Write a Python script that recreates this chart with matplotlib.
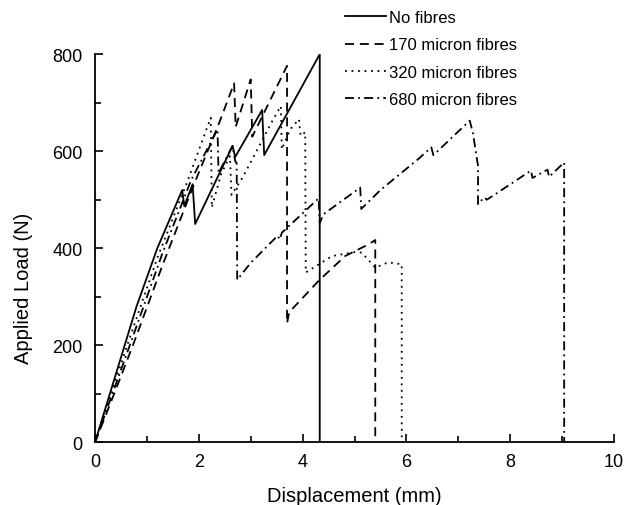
import matplotlib
matplotlib.use("Agg")
import matplotlib.pyplot as plt
from matplotlib.ticker import MultipleLocator

plt.rcParams['font.family'] = ['Liberation Sans', 'DejaVu Sans']

# displacement (mm) / applied load (N)
x_none = [0, 0.3, 0.8, 1.2, 1.68, 1.72, 1.88, 1.93, 2.65, 2.70, 3.22, 3.26, 4.33, 4.33]
y_none = [0, 105, 280, 400, 520, 487, 532, 450, 611, 588, 685, 592, 800, 0]

x_170 = [0, 0.35, 0.73, 1.3, 1.9, 2.38, 2.68, 2.71, 3.00, 3.03, 3.70, 3.70,
         3.74, 4.31, 4.82, 5.27, 5.40, 5.40]
y_170 = [0, 95, 200, 365, 530, 655, 740, 650, 748, 630, 776, 245,
         268, 333, 384, 408, 417, 0]

x_320 = [0, 0.62, 1.2, 1.76, 2.23, 2.25, 2.43, 2.6, 2.63, 2.84, 3.42, 3.58, 3.60,
         3.76, 3.93, 3.96, 4.05, 4.06, 4.57, 5.0, 5.14, 5.40, 5.65, 5.91, 5.91]
y_320 = [0, 200, 380, 532, 669, 484, 553, 590, 510, 545, 663, 693, 604,
         645, 666, 632, 639, 350, 384, 392, 391, 360, 371, 367, 0]

x_680 = [0, 0.67, 1.3, 1.85, 2.36, 2.38, 2.65, 2.70, 2.73, 2.74, 3.0, 3.52, 3.56,
         3.6, 4.31, 4.33, 4.40, 5.11, 5.13, 5.5, 6.23, 6.48, 6.52, 6.58, 7.22,
         7.28, 7.38, 7.38, 7.5, 7.55, 8.40, 8.43, 8.72, 8.75, 9.04, 9.04]
y_680 = [0, 200, 390, 540, 645, 555, 611, 580, 575, 335, 370, 426, 418,
         432, 503, 452, 470, 525, 481, 520, 584, 608, 592, 598, 663,
         639, 570, 491, 505, 500, 560, 545, 562, 547, 577, 0]

labels = ['No fibres', '170 micron fibres', '320 micron fibres', '680 micron fibres']

fig = plt.figure(figsize=(6.26, 5.06), dpi=100)
ax = fig.add_axes([0.1518, 0.1239, 0.829, 0.767])

lw = 1.3
h1, = ax.plot(x_none, y_none, color='black', lw=lw, ls='-')
h2, = ax.plot(x_170, y_170, color='black', lw=lw, ls=(0, (5, 3.2)))
h3, = ax.plot(x_320, y_320, color='black', lw=lw, ls=(0, (1, 2.6)))
h4, = ax.plot(x_680, y_680, color='black', lw=lw, ls=(0, (5, 2.3, 1, 2.3)))

ax.set_xlim(0, 10)
ax.set_ylim(0, 800)
ax.xaxis.set_major_locator(MultipleLocator(2))
ax.xaxis.set_minor_locator(MultipleLocator(1))
ax.yaxis.set_major_locator(MultipleLocator(200))
ax.yaxis.set_minor_locator(MultipleLocator(100))
ax.tick_params(which='both', direction='in', labelsize=13, width=1.2)
ax.tick_params(which='major', length=6)
ax.tick_params(which='minor', length=4)
ax.tick_params(axis='x', pad=8)
ax.tick_params(axis='y', pad=9)
for s in ['top', 'right']:
    ax.spines[s].set_visible(False)
for s in ['left', 'bottom']:
    ax.spines[s].set_linewidth(1.3)

ax.set_xlabel('Displacement (mm)', fontsize=14.5, labelpad=11)
ax.set_ylabel('Applied Load (N)', fontsize=14.5)
ax.yaxis.set_label_coords(-0.12, 0.40)

fig.legend([h1, h2, h3, h4], labels, loc='upper left',
           bbox_to_anchor=(0.551, 0.978), frameon=False, fontsize=12,
           handlelength=2.45, handletextpad=0.2, labelspacing=0.74,
           borderaxespad=0, borderpad=0)

fig.savefig('out.png', dpi=100)
